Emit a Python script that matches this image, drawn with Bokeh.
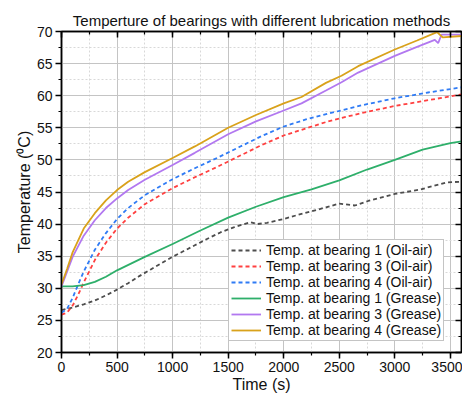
from bokeh.plotting import figure
from bokeh.models import (LinearAxis, SingleIntervalTicker, Range1d, CustomJSTickFormatter)
from bokeh.embed import file_html
from bokeh.resources import INLINE

# ---- data ----
t_oil1 = [0, 100, 200, 300, 400, 500, 600, 700, 800, 900, 1000, 1100, 1200, 1300, 1430,
          1550, 1700, 1760, 1850, 2000, 2160, 2380, 2500, 2640, 2760, 3000, 3230, 3470, 3600]
T_oil1 = [26.6, 27.0, 27.5, 28.1, 28.9, 29.8, 30.8, 31.9, 32.9, 33.9, 34.9, 35.8, 36.7, 37.6, 38.7,
          39.5, 40.3, 40.0, 40.2, 40.8, 41.6, 42.6, 43.2, 42.9, 43.6, 44.7, 45.4, 46.5, 46.6]

t_oil = [0, 50, 100, 150, 200, 300, 400, 500, 600, 750, 1000, 1200, 1400, 1600, 1800,
         2000, 2200, 2400, 2700, 3000, 3300, 3600]
T_oil3 = [25.9, 26.2, 27.3, 29.0, 30.9, 34.4, 37.1, 39.3, 41.0, 43.1, 45.6, 47.3, 48.9, 50.6, 52.3,
          53.8, 54.9, 56.0, 57.3, 58.4, 59.3, 60.2]
T_oil4 = [26.2, 26.8, 28.5, 30.6, 32.6, 36.0, 38.6, 40.8, 42.5, 44.5, 47.0, 48.7, 50.3, 52.0, 53.7,
          55.2, 56.3, 57.2, 58.5, 59.6, 60.5, 61.3]

t_gr1 = [0, 100, 200, 300, 400, 500, 750, 1000, 1250, 1500, 1750, 2000, 2250, 2500, 2750,
         3000, 3250, 3500, 3600]
T_gr1 = [30.3, 30.3, 30.5, 31.0, 31.8, 32.8, 34.9, 36.9, 39.0, 41.0, 42.7, 44.2, 45.4, 46.8, 48.5,
         50.0, 51.6, 52.6, 52.9]

t_gr3 = [0, 50, 100, 200, 300, 400, 500, 600, 750, 1000, 1200, 1500, 1750, 2000, 2160, 2380,
         2520, 2670, 3000, 3200, 3360, 3390, 3420, 3600]
T_gr3 = [30.3, 32.6, 34.9, 38.2, 40.6, 42.5, 44.0, 45.3, 46.9, 49.2, 51.1, 54.0, 56.0, 57.7, 58.8, 60.8,
         62.1, 63.6, 66.2, 67.6, 68.7, 68.2, 69.5, 69.5]

t_gr4 = [0, 50, 100, 200, 300, 400, 500, 600, 750, 1000, 1200, 1500, 1750, 2000, 2160, 2380,
         2520, 2670, 3000, 3200, 3380, 3430, 3600]
T_gr4 = [30.6, 33.0, 35.6, 39.3, 41.7, 43.7, 45.3, 46.6, 48.1, 50.3, 52.1, 55.0, 57.0, 58.8, 59.8, 62.0,
         63.1, 64.6, 67.2, 68.6, 69.9, 69.1, 69.3]

labels = ["Temp. at bearing 1 (Oil-air)", "Temp. at bearing 3 (Oil-air)", "Temp. at bearing 4 (Oil-air)",
          "Temp. at bearing 1 (Grease)", "Temp. at bearing 3 (Grease)", "Temp. at bearing 4 (Grease)"]
colors = ["#4d4d4d", "#ff4040", "#2f7bf5", "#2eaf6a", "#b278f0", "#d9a21b"]

FONT = "Liberation Sans"

p = figure(width=462, height=395, output_backend="svg", toolbar_location=None,
           x_range=Range1d(0, 3600), y_range=Range1d(20, 70),
           min_border_left=61, min_border_right=1, min_border_top=31, min_border_bottom=41,
           title="Temperture of bearings with different lubrication methods")

p.title.align = "center"
p.title.text_font = FONT
p.title.text_font_size = "15px"
p.title.text_font_style = "normal"
p.title.text_color = "#111111"
p.title.standoff = 6

series = [(t_oil1, T_oil1, "4 3"), (t_oil, T_oil3, "4 3"), (t_oil, T_oil4, "4 3"),
          (t_gr1, T_gr1, "solid"), (t_gr3, T_gr3, "solid"), (t_gr4, T_gr4, "solid")]
for (xs, ys, dash), lab, col in zip(series, labels, colors):
    p.line(xs, ys, line_color=col, line_width=1.8, line_dash=dash, legend_label=lab)

xt = SingleIntervalTicker(interval=500, num_minor_ticks=2)
yt = SingleIntervalTicker(interval=5, num_minor_ticks=2)
p.xaxis.ticker = xt
p.yaxis.ticker = yt

for ax in (p.xaxis[0], p.yaxis[0]):
    ax.axis_line_color = "black"
    ax.axis_line_width = 1.5
    ax.major_tick_line_color = "black"
    ax.minor_tick_line_color = "black"
    ax.major_tick_line_width = 1.5
    ax.minor_tick_line_width = 1.2
    ax.major_tick_out = 6
    ax.major_tick_in = 0
    ax.minor_tick_out = 3
    ax.minor_tick_in = 0
    ax.major_label_text_font = FONT
    ax.major_label_text_font_size = "14px"
    ax.major_label_text_color = "#111111"
    ax.axis_label_text_font = FONT
    ax.axis_label_text_font_size = "16px"
    ax.axis_label_text_font_style = "normal"
    ax.axis_label_text_color = "#111111"

p.xaxis.axis_label = "Time (s)"
p.yaxis.axis_label = "Temperature (\u2070C)"
p.xaxis.major_label_standoff = 3
p.xaxis.axis_label_standoff = 1
p.yaxis.major_label_standoff = 3
p.yaxis.axis_label_standoff = 1

blank = CustomJSTickFormatter(code="return ''")
top = LinearAxis(ticker=SingleIntervalTicker(interval=500, num_minor_ticks=2), formatter=blank)
right = LinearAxis(ticker=SingleIntervalTicker(interval=5, num_minor_ticks=2), formatter=blank)
for ax in (top, right):
    ax.axis_line_color = "black"
    ax.axis_line_width = 1.5
    ax.major_tick_line_color = "black"
    ax.minor_tick_line_color = "black"
    ax.major_tick_line_width = 1.5
    ax.minor_tick_line_width = 1.2
    ax.major_tick_out = 0
    ax.major_tick_in = 6
    ax.minor_tick_out = 0
    ax.minor_tick_in = 3
    ax.major_label_standoff = 0
    ax.major_label_text_font_size = "1px"
p.add_layout(top, "above")
p.add_layout(right, "right")

p.xgrid.ticker = xt
p.ygrid.ticker = yt
for g in (p.xgrid[0], p.ygrid[0]):
    g.grid_line_color = "#c4c4c4"
    g.grid_line_width = 1
    g.minor_grid_line_color = "#d8d8d8"
    g.minor_grid_line_dash = "2 2"
    g.minor_grid_line_width = 1

p.outline_line_color = "black"
p.outline_line_width = 1.5

lg = p.legend[0]
lg.location = (167, 11)
lg.label_text_font = FONT
lg.label_text_font_size = "14px"
lg.label_text_color = "#111111"
lg.glyph_height = 16
lg.label_height = 16
lg.glyph_width = 30
lg.spacing = 0
lg.padding = 2
lg.margin = 0
lg.label_standoff = 5
lg.border_line_color = "#8a8a8a"
lg.border_line_width = 1
lg.background_fill_alpha = 1

open("out.html", "w").write(file_html(p, INLINE))
